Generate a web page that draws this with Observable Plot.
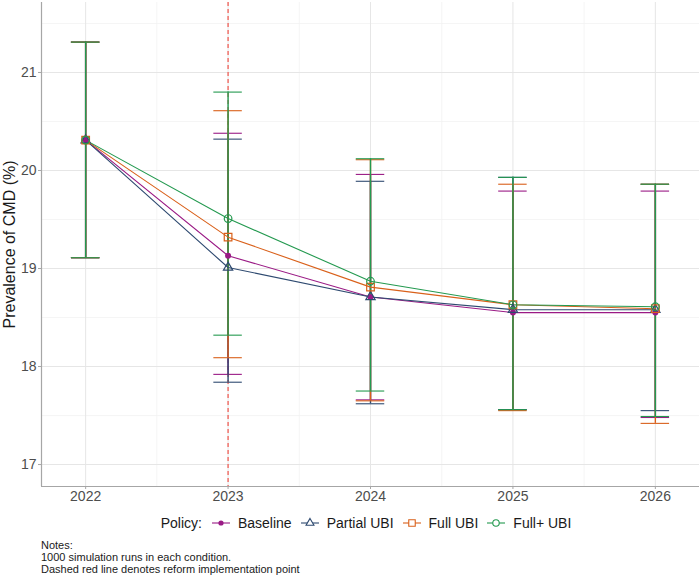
<!DOCTYPE html>
<html>
<head>
<meta charset="utf-8">
<script src="https://cdn.jsdelivr.net/npm/d3@7"></script>
<script src="https://cdn.jsdelivr.net/npm/@observablehq/plot@0.6"></script>
<style>
  body { margin: 0; background: #fff; font-family: "Liberation Sans", Arial, sans-serif; }
  #chart { width: 700px; height: 510px; }
  #legend { display: flex; justify-content: center; align-items: center; font-size: 14px; color: #1a1a1a; height: 26px; margin-left: 41px; }
  #legend .item { display: flex; align-items: center; }
  #legend .title { margin-right: 10px; }
  #legend .lab { margin-right: 9px; }
  #notes { font-size: 11px; line-height: 12px; color: #1a1a1a; margin-left: 41px; margin-top: 3px; }
</style>
</head>
<body>
<div id="chart"></div>
<script>
const years = [2022, 2023, 2024, 2025, 2026];
const policies = ["Baseline", "Partial UBI", "Full UBI", "Full+ UBI"];
const colors = ["#9A1A85", "#2E4A70", "#D9601A", "#23994F"];
const symbols = ["circle", "triangle", "square", "circle"];

const baselineMean  = [20.31, 19.13, 18.71, 18.55, 18.55];
const baselineLow   = [19.11, 17.92, 17.66, 17.56, 17.48];
const baselineHigh  = [21.31, 20.38, 19.96, 19.79, 19.79];

const partialMean   = [20.31, 19.01, 18.71, 18.58, 18.58];
const partialLow    = [19.11, 17.84, 17.62, 17.56, 17.55];
const partialHigh   = [21.31, 20.32, 19.89, 19.93, 19.86];

const fullMean      = [20.31, 19.32, 18.81, 18.63, 18.59];
const fullLow       = [19.11, 18.09, 17.65, 17.55, 17.42];
const fullHigh      = [21.31, 20.61, 20.11, 19.86, 19.86];

const fullPlusMean  = [20.31, 19.51, 18.87, 18.63, 18.61];
const fullPlusLow   = [19.11, 18.32, 17.75, 17.56, 17.49];
const fullPlusHigh  = [21.31, 20.80, 20.12, 19.93, 19.86];

const reformYear = 2023;
const yTicks = [17, 18, 19, 20, 21];
const yMinor = [17.5, 18.5, 19.5, 20.5, 21.5];
const xMinor = [2022.5, 2023.5, 2024.5, 2025.5];
const notesLines = ["Notes:", "1000 simulation runs in each condition.", "Dashed red line denotes reform implementation point"];

const series = [
  [baselineMean, baselineLow, baselineHigh],
  [partialMean, partialLow, partialHigh],
  [fullMean, fullLow, fullHigh],
  [fullPlusMean, fullPlusLow, fullPlusHigh]
];
const data = [];
series.forEach(([m, lo, hi], i) => {
  years.forEach((yr, j) => data.push({policy: policies[i], year: yr, mean: m[j], low: lo[j], high: hi[j]}));
});

const xDomain = [2021.69, 2026.31];
const yDomain = [16.776, 21.714];
const capHalf = 0.1;
const sw = 1.1;
const symR = [3, 3.45, 4.3, 3.8];

const marks = [
  Plot.ruleY(yMinor, {stroke: "#f2f2f2", strokeWidth: 0.8}),
  Plot.ruleX(xMinor, {stroke: "#f2f2f2", strokeWidth: 0.8}),
  Plot.ruleY(yTicks, {stroke: "#e6e6e6", strokeWidth: 1}),
  Plot.ruleX(years, {stroke: "#e6e6e6", strokeWidth: 1}),
  Plot.ruleX([reformYear], {stroke: "#F0544A", strokeWidth: 1.2, strokeDasharray: "4,3"}),
];
policies.forEach((p, i) => {
  const d = data.filter(r => r.policy === p);
  marks.push(
    Plot.ruleX(d, {x: "year", y1: "low", y2: "high", stroke: colors[i], strokeWidth: 1.4}),
    Plot.ruleY(d, {y: "low", x1: r => r.year - capHalf, x2: r => r.year + capHalf, stroke: colors[i], strokeWidth: sw}),
    Plot.ruleY(d, {y: "high", x1: r => r.year - capHalf, x2: r => r.year + capHalf, stroke: colors[i], strokeWidth: sw})
  );
});
policies.forEach((p, i) => {
  const d = data.filter(r => r.policy === p);
  marks.push(Plot.line(d, {x: "year", y: "mean", stroke: colors[i], strokeWidth: sw}));
});
policies.forEach((p, i) => {
  const d = data.filter(r => r.policy === p);
  if (i === 0) {
    marks.push(Plot.dot(d, {x: "year", y: "mean", r: symR[i], fill: colors[i], stroke: "none"}));
  } else {
    marks.push(Plot.dot(d, {x: "year", y: "mean", r: symR[i], symbol: symbols[i], fill: "none", stroke: colors[i], strokeWidth: 1.2}));
  }
});
marks.push(
  Plot.ruleX([xDomain[0]], {stroke: "#a6a6a6", strokeWidth: 1.2}),
  Plot.ruleY([yDomain[0]], {stroke: "#a6a6a6", strokeWidth: 1.2}),
  Plot.axisY(yTicks, {tickSize: 3, tickPadding: 2, stroke: "#a6a6a6", fill: "#4d4d4d", fontSize: 14, tickFormat: d => String(d), label: "Prevalence of CMD (%)", labelAnchor: "center", labelArrow: "none", labelOffset: 38}),
  Plot.axisX(years, {tickSize: 3, tickPadding: 2, stroke: "#a6a6a6", fill: "#4d4d4d", fontSize: 14, tickFormat: d => String(d), label: null})
);

const chart = Plot.plot({
  width: 700,
  height: 510,
  marginTop: 2,
  marginBottom: 24,
  marginLeft: 41,
  marginRight: 1,
  style: {fontFamily: "Liberation Sans, Arial, sans-serif", background: "#fff", overflow: "visible"},
  x: {domain: xDomain},
  y: {domain: yDomain},
  marks
});
d3.select(chart).selectAll("[aria-label='y-axis label'] text").attr("font-size", 16).attr("fill", "#1a1a1a");
document.getElementById("chart").appendChild(chart);

// legend
const legend = d3.select("body").append("div").attr("id", "legend");
legend.append("span").attr("class", "title").text("Policy:");
policies.forEach((p, i) => {
  const item = legend.append("span").attr("class", "item");
  const sv = item.append("svg").attr("width", 18).attr("height", 14).style("margin-right", "8px");
  sv.append("line").attr("x1", 0).attr("x2", 18).attr("y1", 7).attr("y2", 7).attr("stroke", colors[i]).attr("stroke-width", 1.1);
  const sym = symbols[i] === "circle" ? d3.symbolCircle : symbols[i] === "triangle" ? d3.symbolTriangle : d3.symbolSquare;
  if (i === 0) {
    sv.append("circle").attr("cx", 9).attr("cy", 7).attr("r", 2.6).attr("fill", colors[i]);
  } else {
    const r = symR[i] * 0.85;
    sv.append("path").attr("d", d3.symbol(sym, Math.PI * r * r)()).attr("transform", "translate(9,7)").attr("fill", "#fff").attr("stroke", colors[i]).attr("stroke-width", 1.1);
  }
  item.append("span").attr("class", "lab").text(p);
});
const notes = d3.select("body").append("div").attr("id", "notes");
notesLines.forEach(t => notes.append("div").text(t));
</script>
</body>
</html>
